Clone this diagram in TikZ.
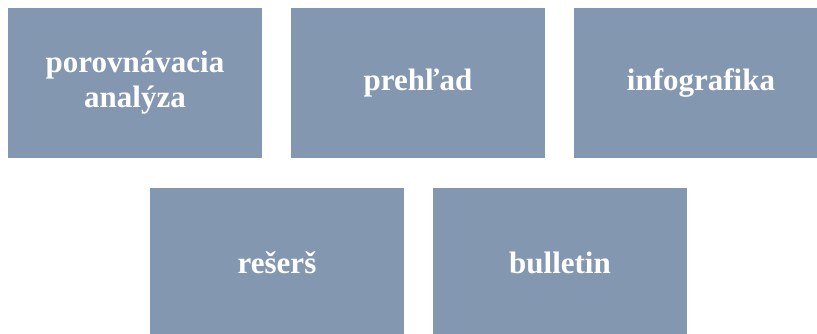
\documentclass[tikz,border=0pt]{standalone}
\usepackage{fontspec}
\setmainfont{Liberation Serif}
\definecolor{boxfill}{HTML}{8497B0}
\begin{document}
\begin{tikzpicture}[x=1pt,y=-1pt,
  tile/.style={fill=boxfill, draw=none, minimum width=254pt, minimum height=150pt,
    inner sep=0pt, text=white, align=center,
    font=\fontsize{31}{35}\selectfont\bfseries}]
\useasboundingbox (0,0) rectangle (817,333);
\clip (0,0) rectangle (817,333);
\node[tile] (a) at (135,83) {porovnávacia\\analýza};
\node[tile] (b) at (418,83) {prehľad};
\node[tile] (c) at (701,83) {infografika};
\node[tile] (d) at (277,263) {rešerš};
\node[tile] (e) at (560,263) {bulletin};
\end{tikzpicture}
\end{document}
